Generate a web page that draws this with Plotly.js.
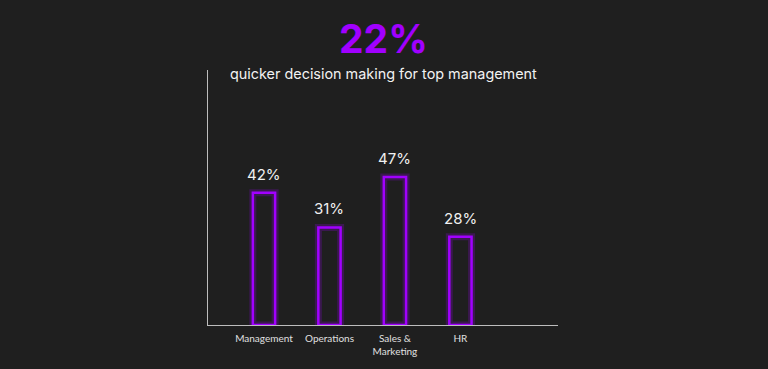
<!DOCTYPE html>
<html>
<head>
<meta charset="utf-8">
<script src="https://cdn.plot.ly/plotly-3.0.1.min.js"></script>
<style>html,body{margin:0;padding:0;background:#1f1f1f;}#chart{width:768px;height:369px;}</style>
</head>
<body>
<div id="chart"></div>
<script>
var categories = ["Management", "Operations", "Sales &<br>Marketing", "HR"];
var values = [42, 31, 47, 28];
var valueLabels = ["42%", "31%", "47%", "28%"];
var headline = "22%";
var subtitle = "quicker decision making for top management";

var purple = "#a100ff";
var xIdx = categories.map(function(_, i){ return i; });

var glow = {
  type: "bar", x: xIdx, y: values, width: 0.34,
  marker: {color: "rgba(0,0,0,0)", line: {color: "rgba(161,0,255,0.22)", width: 7}},
  hoverinfo: "skip", showlegend: false
};
var bars = {
  type: "bar", x: xIdx, y: values, width: 0.34,
  marker: {color: "rgba(0,0,0,0)", line: {color: purple, width: 2.5}},
  showlegend: false
};

var plotTop = 70, plotBottom = 325;
function py(pixelY){ return (plotBottom - pixelY) / (plotBottom - plotTop); }

var annotations = [
  {text: headline, xref: "paper", yref: "paper", x: 0.5, y: py(38), xanchor: "center", yanchor: "middle",
   showarrow: false, font: {family: "Inter, sans-serif", size: 39, color: purple, weight: 700}},
  {text: subtitle, xref: "paper", yref: "paper", x: 0.5, y: py(74), xanchor: "center", yanchor: "middle",
   showarrow: false, font: {family: "Inter, sans-serif", size: 14.4, color: "#f2f2f2"}}
];
values.forEach(function(v, i){
  annotations.push({text: valueLabels[i], x: i, y: v, xref: "x", yref: "y", xanchor: "center", yanchor: "bottom",
    yshift: 7, showarrow: false, font: {family: "Inter, sans-serif", size: 15, color: "#f0f0f0"}});
});

var layout = {
  width: 768, height: 369,
  paper_bgcolor: "#1f1f1f", plot_bgcolor: "#1f1f1f",
  margin: {l: 208, r: 210, t: 70, b: 44},
  barmode: "overlay",
  showlegend: false,
  xaxis: {
    range: [-0.855, 4.49], tickmode: "array", tickvals: xIdx, ticktext: categories,
    showgrid: false, zeroline: false, showline: true, linecolor: "#bdbdbd", linewidth: 1,
    ticks: "outside", ticklen: 4, tickcolor: "rgba(0,0,0,0)",
    tickfont: {family: "Lato, sans-serif", size: 10, color: "#e0e0e0"}, fixedrange: true
  },
  yaxis: {
    range: [0, 81], showgrid: false, zeroline: false, showline: true, linecolor: "#bdbdbd", linewidth: 1,
    showticklabels: false, ticks: "", fixedrange: true
  },
  annotations: annotations
};

Plotly.newPlot("chart", [glow, bars], layout, {displayModeBar: false, staticPlot: true});
</script>
</body>
</html>
